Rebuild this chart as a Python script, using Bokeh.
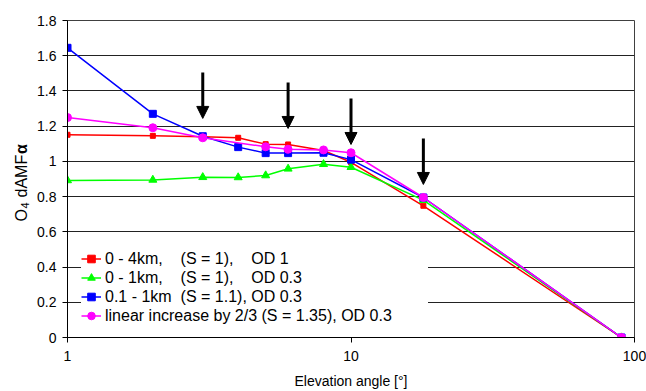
import math
from bokeh.plotting import figure
from bokeh.layouts import row
from bokeh.models import Arrow, NormalHead, FixedTicker, NumeralTickFormatter
from bokeh.core.properties import value
from bokeh.embed import file_html
from bokeh.resources import INLINE

# Elevation angles [deg] and O4 dAMF for the different aerosol profiles
angles = [1, 2, 3, 4, 5, 6, 8, 10, 18, 90]
amf_0_4km = [1.151, 1.145, 1.140, 1.134, 1.098, 1.096, 1.062, 0.995, 0.748, 0.0]
amf_0_1km = [0.892, 0.895, 0.910, 0.909, 0.920, 0.958, 0.984, 0.967, 0.780, 0.0]
amf_01_1km = [1.645, 1.270, 1.143, 1.081, 1.047, 1.047, 1.049, 1.010, 0.795, 0.0]
angles_linear = [1, 2, 3, 5, 6, 8, 10, 18, 90]
amf_linear = [1.249, 1.191, 1.134, 1.083, 1.069, 1.065, 1.049, 0.795, 0.0]

NB = "\u00a0"
series_labels = [
    "0 - 4km," + NB * 4 + "(S = 1)," + NB * 4 + "OD 1",
    "0 - 1km," + NB * 4 + "(S = 1)," + NB * 4 + "OD 0.3",
    "0.1 - 1km" + NB * 2 + "(S = 1.1), OD 0.3",
    "linear increase by 2/3 (S = 1.35), OD 0.3",
]

y_ticks = [0, 0.2, 0.4, 0.6, 0.8, 1.0, 1.2, 1.4, 1.6, 1.8]
x_ticks = [1, 10, 100]

# Arrows marking the selected elevation angles
arrow_angles = [3, 6, 10, 18]
arrow_from = [1.505, 1.448, 1.357, 1.130]
arrow_to = [1.244, 1.187, 1.096, 0.869]

FONT = "Liberation Sans"
TOTAL_W, TOTAL_H = 646, 391
TITLE_W = 34
BORDER_TOP, BORDER_BOTTOM = 20, 54

# ---- narrow strip on the left holding the rotated y-axis title ----
# its frame has the same vertical extent as the chart frame; the ranges are
# chosen so that coordinates are pixels measured from the page's bottom-left
t = figure(
    width=TITLE_W, height=TOTAL_H,
    x_range=(0, TITLE_W), y_range=(BORDER_BOTTOM, TOTAL_H - BORDER_TOP),
    output_backend="svg", toolbar_location=None,
    x_axis_location=None, y_axis_location=None,
    min_border_left=0, min_border_right=0,
    min_border_top=BORDER_TOP, min_border_bottom=BORDER_BOTTOM,
    outline_line_color=None,
)
t.xgrid.visible = False
t.ygrid.visible = False
title_parts = [
    # text, x (centre line), y (start), size, style
    ("O", 21.2, 170.0, "16px", "normal"),
    ("4", 24.2, 183.0, "11px", "normal"),
    ("dAMF", 21.2, 194.0, "16px", "normal"),
    ("\u03b1", 21.2, 237.5, "16px", "bold"),
]
for txt, x, y, size, style in title_parts:
    t.text(
        x=[x], y=[y], text=[txt], angle=math.pi / 2,
        text_font=value(FONT), text_font_size=value(size), text_font_style=style,
        text_color="black", text_align="left", text_baseline="middle",
    )

# ---- main chart ----
p = figure(
    width=TOTAL_W - TITLE_W, height=TOTAL_H,
    x_axis_type="log", x_range=(1, 100), y_range=(0, 1.8),
    output_backend="svg", toolbar_location=None,
    min_border_left=67 - TITLE_W, min_border_right=12,
    min_border_top=BORDER_TOP, min_border_bottom=BORDER_BOTTOM,
    background_fill_color="white", border_fill_color="white",
)
p.outline_line_color = "#404040"
p.outline_line_width = 1

# grid
p.xgrid.visible = False
p.ygrid.ticker = FixedTicker(ticks=y_ticks)
p.ygrid.grid_line_color = "#222222"
p.ygrid.grid_line_width = 1

# axes
p.yaxis.ticker = FixedTicker(ticks=y_ticks)
p.yaxis.formatter = NumeralTickFormatter(format="0.[0]")
p.xaxis.ticker = FixedTicker(ticks=x_ticks, minor_ticks=[])
p.xaxis.formatter = NumeralTickFormatter(format="0")
for ax in (p.xaxis[0], p.yaxis[0]):
    ax.axis_line_color = "black"
    ax.axis_line_width = 1
    ax.major_tick_line_color = "black"
    ax.major_tick_in = 0
    ax.major_tick_out = 5
    ax.minor_tick_line_color = None
    ax.major_label_text_font = FONT
    ax.major_label_text_font_size = "14px"
    ax.major_label_text_color = "black"
    ax.axis_label_text_font = FONT
    ax.axis_label_text_font_size = "14px"
    ax.axis_label_text_font_style = "normal"
    ax.axis_label_text_color = "black"
p.xaxis.axis_label = "Elevation angle [°]"
p.xaxis.major_label_standoff = 8
p.xaxis.axis_label_standoff = 9
p.yaxis.major_label_standoff = 6

# series
p.line(angles, amf_0_4km, color="#FF0000", line_width=1.5, legend_label=series_labels[0])
p.scatter(angles, amf_0_4km, marker="square", size=5, color="#FF0000", legend_label=series_labels[0])

p.line(angles, amf_0_1km, color="#00FF00", line_width=1.5, legend_label=series_labels[1])
p.scatter(angles, amf_0_1km, marker="triangle", size=8, color="#00FF00", legend_label=series_labels[1])

p.line(angles, amf_01_1km, color="#0000FF", line_width=1.5, legend_label=series_labels[2])
p.scatter(angles, amf_01_1km, marker="square", size=7, color="#0000FF", legend_label=series_labels[2])

p.line(angles_linear, amf_linear, color="#FF00FF", line_width=1.5, legend_label=series_labels[3])
p.scatter(angles_linear, amf_linear, marker="circle", size=8, color="#FF00FF", legend_label=series_labels[3])

# arrows
for a, y0, y1 in zip(arrow_angles, arrow_from, arrow_to):
    p.add_layout(Arrow(
        end=NormalHead(size=12, fill_color="black", line_color="black", line_width=1),
        x_start=a, y_start=y0, x_end=a, y_end=y1,
        line_color="black", line_width=3,
    ))

# legend
lg = p.legend[0]
lg.location = (14, 12)
lg.border_line_color = None
lg.background_fill_color = "white"
lg.background_fill_alpha = 1.0
lg.padding = 6
lg.margin = 0
lg.spacing = 0
lg.glyph_width = 20
lg.glyph_height = 19
lg.label_height = 19
lg.label_width = 323
lg.label_standoff = 4
lg.label_text_font = FONT
lg.label_text_font_size = "16px"
lg.label_text_color = "black"

layout = row(t, p, spacing=0)
open("out.html", "w").write(file_html(layout, INLINE))
